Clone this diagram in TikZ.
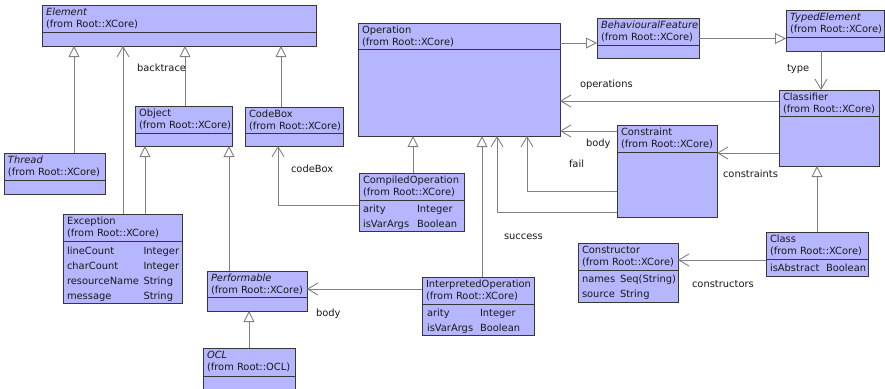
\documentclass[tikz,border=0pt]{standalone}
\usepackage{fontspec}
\setmainfont{DejaVu Sans}
\usetikzlibrary{arrows.meta}
\definecolor{boxfill}{RGB}{182,182,255}
\definecolor{boxline}{RGB}{55,55,55}
\definecolor{conn}{RGB}{128,128,128}
\definecolor{ink}{RGB}{25,25,25}
\tikzset{
  clsbox/.style={draw=boxline, fill=boxfill, line width=1pt, anchor=north west, inner sep=0pt, outer sep=0pt},
  sepline/.style={draw=boxline, line width=1pt},
  txt/.style={anchor=base west, inner sep=0pt, outer sep=0pt, text=ink, font=\fontsize{9.9}{12}\selectfont},
  gen/.style={draw=conn, line width=0.9pt, -{Triangle[length=11pt,width=11pt,fill=white]}},
  assoc/.style={draw=conn, line width=0.9pt, -{Straight Barb[length=10pt,width=12pt]}}
}
\newcommand{\umlclass}[6]{%
  \node[clsbox, minimum width={#4pt-#2pt}, minimum height={#5pt-#3pt}] (#1) at (#2,#3) {};
  \draw[sepline] (#2,#6) -- (#4,#6);
}
\newcommand{\umlhead}[5]{% name x y line1 line2
  \node[txt] (#1-a) at (#2+4,#3+10.5) {#4};
  \node[txt] (#1-b) at (#2+4,#3+22.5) {#5};
}
\newcommand{\umltxt}[4]{\node[txt] (#1) at (#2,#3) {#4};}
\begin{document}
\begin{tikzpicture}[x=1pt,y=-1pt]
\useasboundingbox (0,0) rectangle (885,388);
\clip (0,0) rectangle (885,388);
\fill[white] (0,0) rectangle (885,388);

% classes
\umlclass{elem}{42}{5}{316}{46}{32}
\umlhead{elem}{42}{5}{\textit{Element}}{(from Root::XCore)}
\umlclass{thread}{4}{153}{105}{194}{180}
\umlhead{thread}{4}{153}{\textit{Thread}}{(from Root::XCore)}
\umlclass{object}{135}{106}{232}{146}{133}
\umlhead{object}{135}{106}{Object}{(from Root::XCore)}
\umlclass{codebox}{245}{107}{343}{146}{133}
\umlhead{codebox}{245}{107}{CodeBox}{(from Root::XCore)}
\umlclass{exception}{63}{214}{182}{303}{241}
\umlhead{exception}{63}{214}{Exception}{(from Root::XCore)}
\umltxt{ex1}{67}{254}{lineCount}
\umltxt{ex2}{67}{269}{charCount}
\umltxt{ex3}{67}{284}{resourceName}
\umltxt{ex4}{67}{299}{message}
\umltxt{ex5}{143.5}{254}{Integer}
\umltxt{ex6}{143.5}{269}{Integer}
\umltxt{ex7}{143.5}{284}{String}
\umltxt{ex8}{143.5}{299}{String}
\umlclass{perf}{207}{271}{307}{311}{297}
\umlhead{perf}{207}{271}{\textit{Performable}}{(from Root::XCore)}
\umlclass{ocl}{203}{348}{295}{398}{376}
\umlhead{ocl}{203}{348}{\textit{OCL}}{(from Root::OCL)}
\umlclass{operation}{358}{23}{560}{136}{49}
\umlhead{operation}{358}{23}{Operation}{(from Root::XCore)}
\umlclass{compiled}{359}{173}{464}{231}{200}
\umlhead{compiled}{359}{173}{CompiledOperation}{(from Root::XCore)}
\umltxt{co1}{363}{212.5}{arity}
\umltxt{co2}{363}{227.5}{isVarArgs}
\umltxt{co3}{417}{212.5}{Integer}
\umltxt{co4}{417}{227.5}{Boolean}
\umlclass{interp}{422}{277}{534}{335}{304}
\umlhead{interp}{422}{277}{InterpretedOperation}{(from Root::XCore)}
\umltxt{io1}{427}{316.5}{arity}
\umltxt{io2}{427}{331.5}{isVarArgs}
\umltxt{io3}{480}{316.5}{Integer}
\umltxt{io4}{480}{331.5}{Boolean}
\umlclass{behav}{597}{18}{699}{58}{45}
\umlhead{behav}{597}{18}{\textit{BehaviouralFeature}}{(from Root::XCore)}
\umlclass{typed}{786}{10}{884}{51}{37}
\umlhead{typed}{786}{10}{\textit{TypedElement}}{(from Root::XCore)}
\umlclass{classifier}{779}{90}{879}{166}{116}
\umlhead{classifier}{779}{90}{Classifier}{(from Root::XCore)}
\umlclass{constraint}{617}{125}{717}{217}{152}
\umlhead{constraint}{617}{125}{Constraint}{(from Root::XCore)}
\umlclass{constructor}{578}{243}{678}{302}{270}
\umlhead{constructor}{578}{243}{Constructor}{(from Root::XCore)}
\umltxt{cn1}{582}{282.5}{names}
\umltxt{cn2}{582}{297.5}{source}
\umltxt{cn3}{620}{282.5}{Seq(String)}
\umltxt{cn4}{620}{297.5}{String}
\umlclass{class}{766}{232}{868}{276}{259}
\umlhead{class}{766}{232}{Class}{(from Root::XCore)}
\umltxt{cl1}{770}{271.5}{isAbstract}
\umltxt{cl2}{826}{271.5}{Boolean}

% connector guide coordinates
\coordinate (k1) at (74,0);
\coordinate (k2) at (123,0);
\coordinate (k3) at (185,0);
\coordinate (k4) at (281,0);
\coordinate (k5) at (145,0);
\coordinate (k6) at (229,0);
\coordinate (k7) at (278,205);
\coordinate (k8) at (249,0);
\coordinate (k9) at (0,289);
\coordinate (k10) at (413,0);
\coordinate (k11) at (482,0);
\coordinate (k12) at (497,212);
\coordinate (k13) at (527,191);
\coordinate (k14) at (0,131);
\coordinate (k15) at (0,101);
\coordinate (k16) at (0,43);
\coordinate (k17) at (0,38.5);
\coordinate (k18) at (821,0);
\coordinate (k19) at (0,153);
\coordinate (k20) at (817,0);
\coordinate (k21) at (0,260);

% connectors
\draw[gen] (thread.north -| k1) -- (elem.south -| k1);
\draw[assoc] (exception.north -| k2) -- (elem.south -| k2);
\draw[gen] (object.north -| k3) -- (elem.south -| k3);
\draw[gen] (codebox.north -| k4) -- (elem.south -| k4);
\draw[gen] (exception.north -| k5) -- (object.south -| k5);
\draw[gen] (perf.north -| k6) -- (object.south -| k6);
\draw[assoc] (compiled.west |- k7) -- (k7) -- (codebox.south -| k7);
\draw[gen] (ocl.north -| k8) -- (perf.south -| k8);
\draw[assoc] (interp.west |- k9) -- (perf.east |- k9);
\draw[gen] (compiled.north -| k10) -- (operation.south -| k10);
\draw[gen] (interp.north -| k11) -- (operation.south -| k11);
\draw[assoc] (constraint.west |- k12) -- (k12) -- (operation.south -| k12);
\draw[assoc] (constraint.west |- k13) -- (k13) -- (operation.south -| k13);
\draw[assoc] (constraint.west |- k14) -- (operation.east |- k14);
\draw[assoc] (classifier.west |- k15) -- (operation.east |- k15);
\draw[gen] (operation.east |- k16) -- (behav.west |- k16);
\draw[gen] (behav.east |- k17) -- (typed.west |- k17);
\draw[assoc] (typed.south -| k18) -- (classifier.north -| k18);
\draw[assoc] (classifier.west |- k19) -- (constraint.east |- k19);
\draw[gen] (class.north -| k20) -- (classifier.south -| k20);
\draw[assoc] (class.west |- k21) -- (constructor.east |- k21);

% labels
\umltxt{lb1}{137}{71.5}{backtrace}
\umltxt{lb2}{291}{172.5}{codeBox}
\umltxt{lb3}{316}{316.5}{body}
\umltxt{lb4}{580}{87.5}{operations}
\umltxt{lb5}{586}{146}{body}
\umltxt{lb6}{569}{167.5}{fail}
\umltxt{lb7}{504}{239.5}{success}
\umltxt{lb8}{787}{71.5}{type}
\umltxt{lb9}{723}{177}{constraints}
\umltxt{lb10}{692}{287}{constructors}
\end{tikzpicture}
\end{document}
